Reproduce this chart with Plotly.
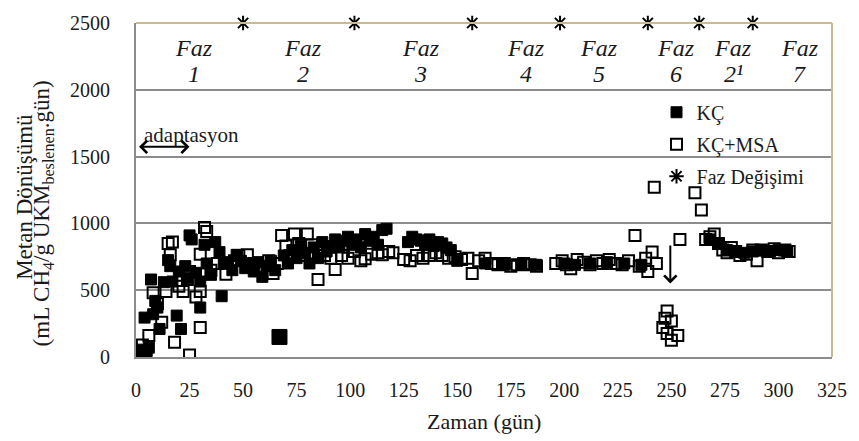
import plotly.graph_objects as go

# ---- data ----
kc_day = [1, 2, 3, 4, 5, 6, 4, 7, 8, 9, 10, 11, 13, 15, 16, 17, 19, 20, 21, 23, 24, 25, 26, 28, 30, 30,
          32, 33, 35, 37, 39, 40, 41, 43, 45, 47, 49,
          51, 53, 55, 57, 59, 61, 63, 65, 69, 71, 73, 75, 77, 79, 81, 83, 85, 87, 89, 91, 93, 95, 97, 99, 101,
          103, 105, 107, 109, 111, 113, 115, 117, 127, 129, 131, 133, 135, 137, 139, 141, 143, 145, 147,
          150, 163, 172, 180, 187, 200, 205, 212, 220, 228, 236,
          268, 272, 276, 280, 284, 288, 292, 296, 300, 304]
kc_val = [40, 30, 55, 25, 45, 70, 295, 580, 320, 420, 370, 210, 560, 725, 680, 565, 310, 640, 210, 680, 590, 910, 880, 630, 565, 370,
          840, 700, 615, 860, 785, 455, 700, 710, 650, 765, 720,
          665, 700, 640, 710, 600, 680, 720, 650, 760, 700, 800, 740, 830, 780, 700, 820, 740, 860, 790, 830, 880, 820, 870, 900, 840,
          880, 820, 920, 870, 900, 840, 950, 960, 860, 900, 880, 870, 850, 880, 830, 860, 850, 820, 800,
          720, 700, 690, 690, 690, 700, 690, 700, 710, 700, 690,
          880, 850, 800, 790, 780, 790, 800, 790, 800, 790]
kc_outlier_day = [67]
kc_outlier_val = [150]

msa_day = [3, 6, 8, 10, 12, 14, 15, 16, 17, 18, 20, 22, 24, 25, 25, 28, 30, 30, 30, 32, 33, 35, 38, 42, 46, 48,
           52, 55, 58, 62, 64, 66, 68, 70, 72, 74, 76, 78, 80, 82, 85, 88, 91, 93, 96, 99,
           102, 105, 107, 110, 113, 115, 118, 120, 125, 128, 131, 134, 137, 140, 143, 146, 149,
           152, 155, 157, 160, 163, 166, 169, 172, 175, 178, 181, 184, 187,
           196, 199, 201, 203, 206, 209, 212, 215, 218, 221, 224, 227, 230, 233, 235, 238, 239, 241, 242, 243,
           246, 247, 248, 248, 250, 250, 253, 254, 261, 264,
           266, 268, 270, 272, 274, 276, 278, 280, 282, 285, 288, 290, 292,
           295, 298, 300, 303, 305]
msa_val = [90, 160, 480, 400, 260, 490, 850, 765, 860, 110, 530, 490, 580, 15, 640, 450, 490, 220, 770, 970, 940, 650, 700, 620, 720, 760,
           765, 700, 680, 720, 625, 700, 910, 830, 760, 920, 850, 760, 920, 840, 580, 760, 740, 655, 760, 740,
           790, 720, 735, 770, 780, 765, 790, 780, 730, 720, 760, 740, 760, 780, 760, 740, 750,
           730, 740, 625, 720, 740, 700, 690, 700, 680, 690, 700, 690, 680,
           700, 720, 690, 660, 730, 710, 690, 720, 700, 730, 700, 690, 720, 910, 680, 740, 640, 785, 1270, 700,
           220, 290, 345, 175, 270, 125, 160, 880, 1230, 1100,
           880, 900, 920, 850, 800, 780, 820, 790, 760, 770, 800, 720, 800,
           790, 810, 780, 800, 790]

phase_change_day = [50, 102, 157, 198, 239, 263, 288]
phase_change_val = [2500, 2500, 2500, 2500, 2500, 2500, 2500]

phase_names = ["1", "2", "3", "4", "5", "6", "2\u00b9", "7"]
phase_label_day = [27, 78, 133, 182, 216, 252, 279, 310]

x_ticks = [0, 25, 50, 75, 100, 125, 150, 175, 200, 225, 250, 275, 300, 325]
y_ticks = [0, 500, 1000, 1500, 2000, 2500]

FONT = "Liberation Serif"
TXT = "#1a1a1a"
GRID = "#8c8c8c"
TAN = "#c9bb8c"

fig = go.Figure()

fig.add_trace(go.Scatter(
    x=kc_day, y=kc_val, mode="markers", name="KÇ", legendgroup="a",
    marker=dict(symbol="square", size=11, color="black", line=dict(color="black", width=1)),
))
fig.add_trace(go.Scatter(
    x=kc_outlier_day, y=kc_outlier_val, mode="markers", showlegend=False,
    marker=dict(symbol="square", size=15, color="black", line=dict(color="black", width=1)),
))
fig.add_trace(go.Scatter(
    x=msa_day, y=msa_val, mode="markers", name="KÇ+MSA", legendgroup="b",
    marker=dict(symbol="square-open", size=11, color="black", line=dict(color="black", width=2)),
))
fig.add_trace(go.Scatter(
    x=phase_change_day, y=phase_change_val, mode="markers", name="Faz Değişimi", legendgroup="c",
    cliponaxis=False,
    marker=dict(symbol="asterisk-open", size=12, color="black", line=dict(color="black", width=2)),
))

# top / right tan border
fig.add_shape(type="line", xref="paper", yref="paper", x0=0, x1=1, y0=1, y1=1,
              line=dict(color=TAN, width=2), layer="above")
fig.add_shape(type="line", xref="paper", yref="paper", x0=1, x1=1, y0=0, y1=1,
              line=dict(color=TAN, width=2), layer="above")

# phase labels
for d, n in zip(phase_label_day, phase_names):
    fig.add_annotation(x=d, y=2316, text="<i>Faz</i>", showarrow=False,
                       xanchor="center", yanchor="middle",
                       font=dict(family=FONT, size=24, color=TXT))
    fig.add_annotation(x=d, y=2118, text="<i>" + n + "</i>", showarrow=False,
                       xanchor="center", yanchor="middle",
                       font=dict(family=FONT, size=24, color=TXT))

# adaptasyon
fig.add_annotation(x=26, y=1662, text="adaptasyon", showarrow=False,
                   xanchor="center", yanchor="middle",
                   font=dict(family=FONT, size=21, color=TXT))
fig.add_annotation(x=25, y=1573, ax=0.7, ay=1573, axref="x", ayref="y",
                   text="", showarrow=True, arrowhead=4, arrowside="end+start",
                   arrowsize=1.2, arrowwidth=2, arrowcolor="black")

# down arrow
fig.add_annotation(x=249.5, y=550, ax=249.5, ay=845, axref="x", ayref="y",
                   text="", showarrow=True, arrowhead=4, arrowsize=1.2,
                   arrowwidth=2, arrowcolor="black")

# y title (two lines)
fig.add_annotation(xref="paper", yref="paper", x=(24 - 136) / 702, y=(357 - 194) / 340,
                   xanchor="center", yanchor="middle",
                   text="Metan Dönüşümü", textangle=-90, showarrow=False,
                   font=dict(family=FONT, size=23, color=TXT))
fig.add_annotation(xref="paper", yref="paper", x=(42 - 136) / 702, y=(357 - 211) / 340,
                   xanchor="center", yanchor="middle",
                   text="(mL CH<sub>4</sub>/g UKM<sub>beslenen</sub>.gün)", textangle=-90, showarrow=False,
                   font=dict(family=FONT, size=23, color=TXT))
# x title
fig.add_annotation(xref="paper", yref="paper", x=0.5, y=-(423 - 357) / 340,
                   xanchor="center", yanchor="middle",
                   text="Zaman (gün)", showarrow=False,
                   font=dict(family=FONT, size=22, color=TXT))

fig.update_xaxes(range=[0, 325], tickvals=x_ticks, ticktext=[str(v) for v in x_ticks],
                 showgrid=False, zeroline=False, showline=True, linecolor=GRID, linewidth=2,
                 ticks="", ticklabelstandoff=14,
                 tickfont=dict(family=FONT, size=20, color=TXT))
fig.update_yaxes(range=[0, 2500], tickvals=y_ticks, ticktext=[str(v) for v in y_ticks],
                 showgrid=True, gridcolor=GRID, gridwidth=2, zeroline=False,
                 showline=True, linecolor=GRID, linewidth=2,
                 ticks="", ticklabelstandoff=20,
                 tickfont=dict(family=FONT, size=20, color=TXT))

fig.update_layout(
    width=859, height=441,
    margin=dict(l=136, r=21, t=17, b=84),
    paper_bgcolor="white", plot_bgcolor="white",
    showlegend=True,
    legend=dict(x=(661 - 136) / 702, y=(357 - 88) / 340, xanchor="left", yanchor="top",
                bgcolor="rgba(0,0,0,0)", borderwidth=0, tracegroupgap=3,
                itemwidth=30,
                font=dict(family=FONT, size=20, color=TXT)),
)

fig.write_html("out.html")
